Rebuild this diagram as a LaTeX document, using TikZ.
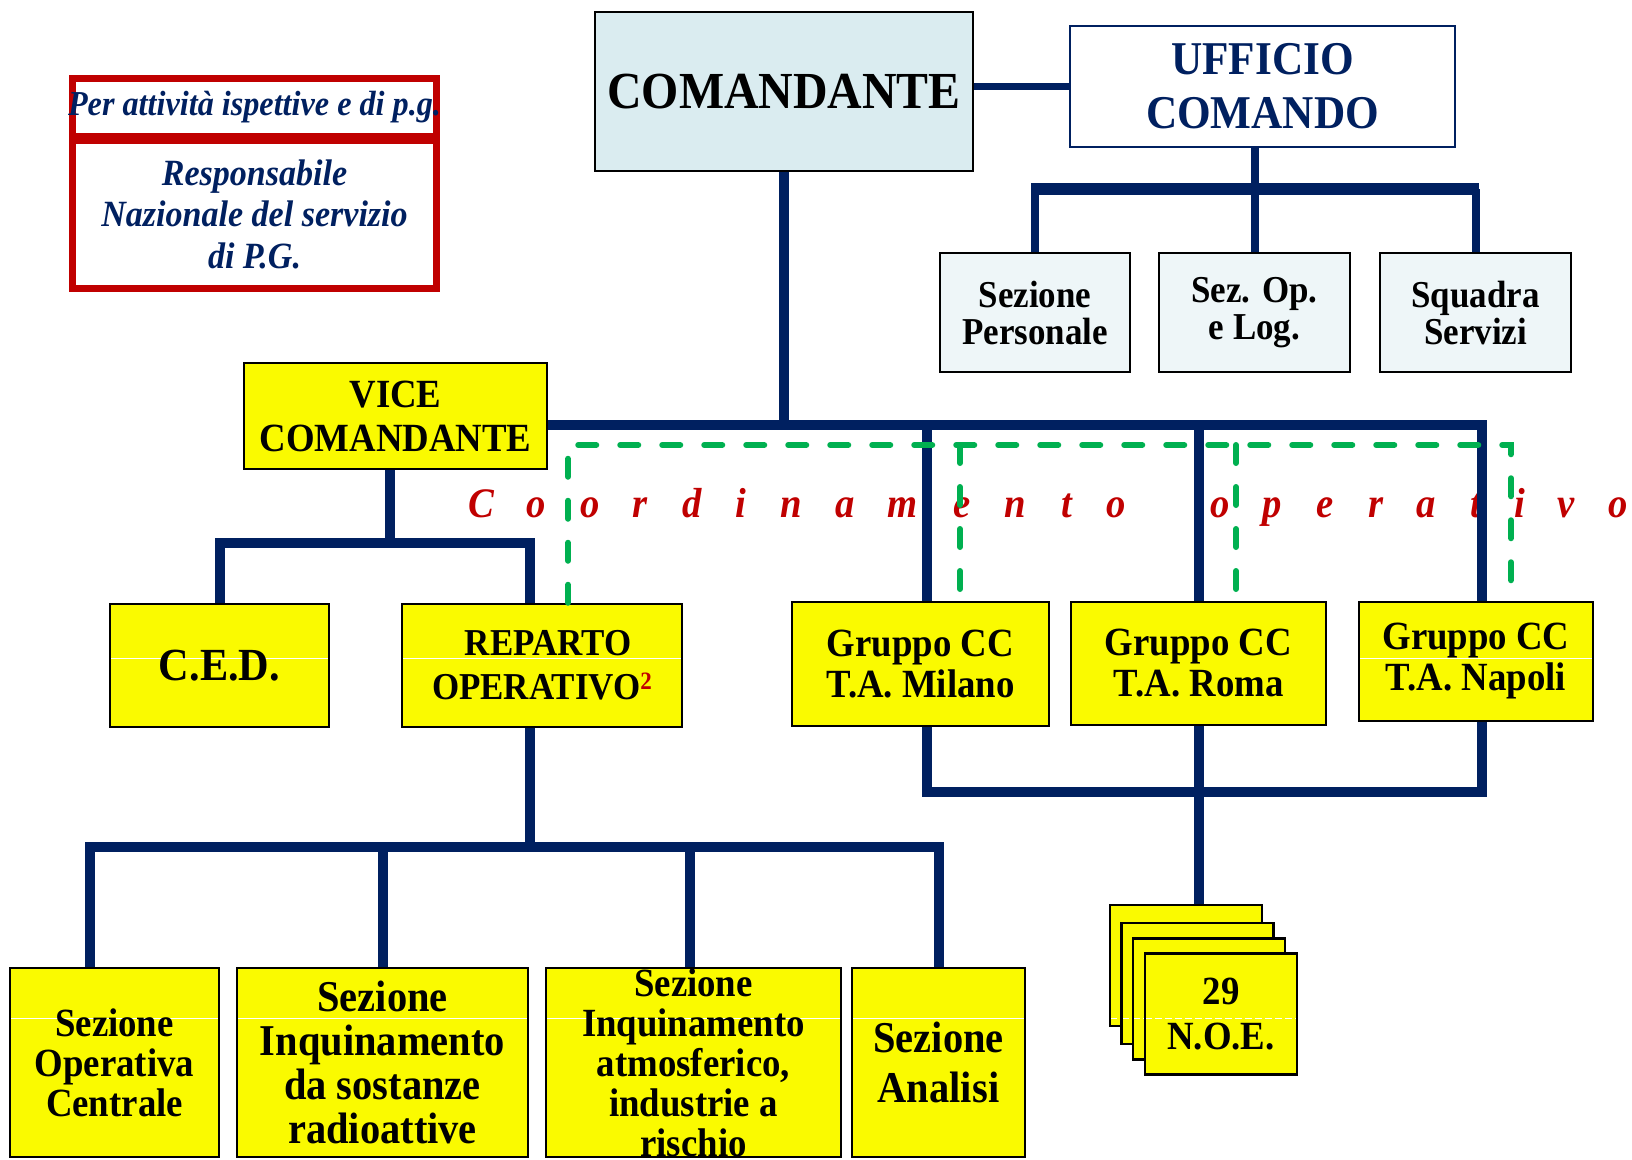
\documentclass[tikz,border=0pt]{standalone}
\usepackage{fontspec}
\setmainfont{Liberation Serif}[FakeStretch=0.92]

\definecolor{navy}{RGB}{0,32,96}
\definecolor{cmdblue}{RGB}{218,236,240}
\definecolor{secblue}{RGB}{238,246,248}
\definecolor{boxyellow}{RGB}{250,250,0}
\definecolor{pgred}{RGB}{192,0,0}
\definecolor{coordgreen}{RGB}{0,176,80}

\newcommand\fsz[2]{\fontsize{#1}{#2}\selectfont}

\tikzset{
    box/.style={draw=black, line width=2.5pt, fill=boxyellow, inner sep=0pt, align=center},
    secbox/.style={box, fill=secblue, minimum width=191pt, minimum height=119pt, font=\fsz{38}{37}\bfseries},
    gruppo/.style={box, font=\fsz{40}{41}\bfseries},
    sezbox/.style={box, minimum height=189pt},
    noecard/.style={box, minimum width=152pt, minimum height=121pt},
    pgbox/.style={draw=pgred, line width=7pt, fill=white, inner sep=0pt, align=center, text=navy},
    link/.style={draw=navy, line width=10pt},
    ulink/.style={draw=navy, line width=8pt},
    coordline/.style={draw=coordgreen, line width=6pt, line cap=round, dash pattern=on 18pt off 24pt},
    coordtxt/.style={text=pgred, font=\fsz{42}{42}\bfseries\itshape, anchor=base, inner sep=0pt},
    artline/.style={},
    artefact/.style={path picture={\draw[white, line width=1pt, artline] ([yshift=#1]path picture bounding box.west) -- ([yshift=#1]path picture bounding box.east);}}
}

\begin{document}
\begin{tikzpicture}[x=1pt, y=-1pt]
    \useasboundingbox (0,0) rectangle (1632,1159);

    % Coordinamento operativo (letter by letter)
    \foreach \x/\l [count=\i] in {481/C,536/o,590/o,640/r,692/d,741/i,791/n,845/a,903/m,962/e,1015/n,1067/t,1116/o,1220/o,1272/p,1325/e,1376/r,1426/a,1476/t,1520/i,1566/v,1618/o}
    {
        \node[coordtxt] (co\i) at (\x,517) {\l};
    }

    % Riquadro P.G.
    \node[pgbox, minimum width=364pt, minimum height=58pt, font=\fsz{35}{35}\bfseries\itshape] (pgtop) at (254.5,107) {\makebox[330pt]{\raisebox{-4pt}{Per attività ispettive e di p.g.}}};
    \node[pgbox, minimum width=364pt, minimum height=148.5pt, font=\fsz{37}{41.5}\bfseries\itshape] (pgresp) at (254.5,214.25) {Responsabile\\Nazionale del servizio\\di P.G.};

    % Comandante e ufficio comando
    \node[box, fill=cmdblue, minimum width=378pt, minimum height=159pt, font=\fsz{52}{52}\bfseries] (cmd) at (784,91.5) {COMANDANTE};
    \node[box, draw=navy, fill=white, text=navy, minimum width=385pt, minimum height=121pt, font=\fsz{47}{54}\bfseries] (uff) at (1262.5,86.5) {UFFICIO\\COMANDO};
    \node[secbox, minimum width=190pt] (sec1) at (1035,312.5) {Sezione\\Personale};
    \node[secbox] (sec2) at (1254.5,312.5) {\raisebox{-4pt}{Sez. Op.}\\\raisebox{-4pt}{e Log.}};
    \node[secbox] (sec3) at (1475.5,312.5) {Squadra\\Servizi};

    % Vice comandante, C.E.D., reparto
    \node[box, minimum width=303pt, minimum height=106pt, font=\fsz{40}{44}\bfseries] (vice) at (395.5,416) {VICE\\COMANDANTE};
    \node[box, artefact=7.5pt, minimum width=219pt, minimum height=123pt, font=\fsz{46}{46}\bfseries] (ced) at (219.5,665.5) {C.E.D.};
    \node[box, artefact=7.5pt, minimum width=280pt, minimum height=123pt, font=\fsz{38}{44}\bfseries] (rep) at (542,665.5) {\hspace*{12pt}REPARTO\\OPERATIVO\raisebox{10pt}{\fsz{25}{25}\color{pgred}2}};

    % Gruppi CC T.A.
    \node[gruppo, minimum width=257pt, minimum height=124pt] (milano) at (920.5,664) {Gruppo CC\\T.A. Milano};
    \node[gruppo, minimum width=255pt, minimum height=123pt] (roma) at (1198.5,663.5) {Gruppo CC\\T.A. Roma};
    \node[gruppo, artefact=3.5pt, minimum width=234pt, minimum height=119pt] (napoli) at (1476,661.5) {Gruppo CC\\T.A. Napoli};

    % Sezioni del reparto
    \node[sezbox, artefact=44.5pt, minimum width=209pt, font=\fsz{40}{40}\bfseries] (sa1) at (114.5,1062.5) {Sezione\\Operativa\\Centrale};
    \node[sezbox, artefact=44.5pt, minimum width=291pt, font=\fsz{44}{44}\bfseries] (sa2) at (382.5,1062.5) {Sezione\\Inquinamento\\da sostanze\\radioattive};
    \node[sezbox, artefact=44.5pt, minimum width=295pt, font=\fsz{40}{40}\bfseries] (sa3) at (693.5,1062.5) {Sezione\\Inquinamento\\atmosferico,\\industrie a\\rischio};
    \node[sezbox, artefact=44.5pt, minimum width=173pt, font=\fsz{44}{50}\bfseries] (sa4) at (938.5,1062.5) {Sezione\\Analisi};

    % N.O.E. (stacked cards)
    \tikzset{artline/.style={dash pattern=on 7pt off 3pt}}
    \foreach \cx/\cy/\s [count=\i] in {1186/965.5/-52.5, 1197.5/983.5/-34.5, 1209/999/-19}
    {
        \node[noecard, artefact=\s pt] (noe\i) at (\cx,\cy) {};
    }
    \node[noecard, artefact=-4pt, font=\fsz{40}{45}\bfseries] (noe4) at (1221,1014) {29\\N.O.E.};
    \tikzset{artline/.style={}}

    % Linee di dipendenza
    \coordinate (mj) at (784,425);
    \coordinate (mr) at (1482,425);
    \coordinate (mmi) at (927,425);
    \draw[link, line width=7.5pt] (cmd.east |- uff.west) -- (uff.west);
    \draw[link] (cmd.south) -- (mj);
    \draw[link] (vice.east |- mj) -- (mr) -- (mr |- napoli.north);
    \draw[link] (mmi) -- (mmi |- milano.north);
    \draw[link] (roma.north) -- (roma.north |- mj);

    % Ufficio comando
    \coordinate (ul) at (1031,189);
    \coordinate (ur) at (1479,189);
    \draw[link, line width=12pt] (ul) -- (ur);
    \draw[ulink] (sec2.north |- uff.south) -- (sec2.north);
    \draw[ulink] (sec1.north) -- (sec1.north |- ul);
    \draw[ulink] (sec3.north) -- (sec3.north |- ur);

    % Vice comandante
    \coordinate (vj) at (390,543);
    \coordinate (vr) at (530,543);
    \draw[link] (vj |- vice.south) -- (vj);
    \draw[link] (ced.north) |- (vj) -- (vr) -- (vr |- rep.north);

    % Reparto operativo
    \coordinate (rj) at (530,847);
    \coordinate (rl) at (90,847);
    \coordinate (rr) at (939,847);
    \coordinate (r3) at (690,847);
    \draw[link] (rj |- rep.south) -- (rj);
    \draw[link] (rl |- sa1.north) -- (rl) -- (rr) -- (rr |- sa4.north);
    \draw[link] (sa2.north) -- (sa2.north |- rj);
    \draw[link] (r3) -- (r3 |- sa3.north);

    % Gruppi e N.O.E.
    \coordinate (gmi) at (927,792);
    \coordinate (gna) at (1482,792);
    \draw[link] (gmi |- milano.south) -- (gmi) -- (gna) -- (gna |- napoli.south);
    \draw[link] (roma.south) -- (roma.south |- noe1.north);

    % Coordinamento operativo (green dashed)
    \coordinate (gl) at (568,445);
    \coordinate (gr) at (1511,445);
    \coordinate (gm) at (960,445);
    \coordinate (gro) at (1236,445);
    \draw[coordline] (gl |- rep.north) -- (gl) -- (gr) -- (gr |- napoli.north);
    \draw[coordline] (gm) -- (gm |- milano.north);
    \draw[coordline] (gro) -- (gro |- roma.north);
\end{tikzpicture}
\end{document}
